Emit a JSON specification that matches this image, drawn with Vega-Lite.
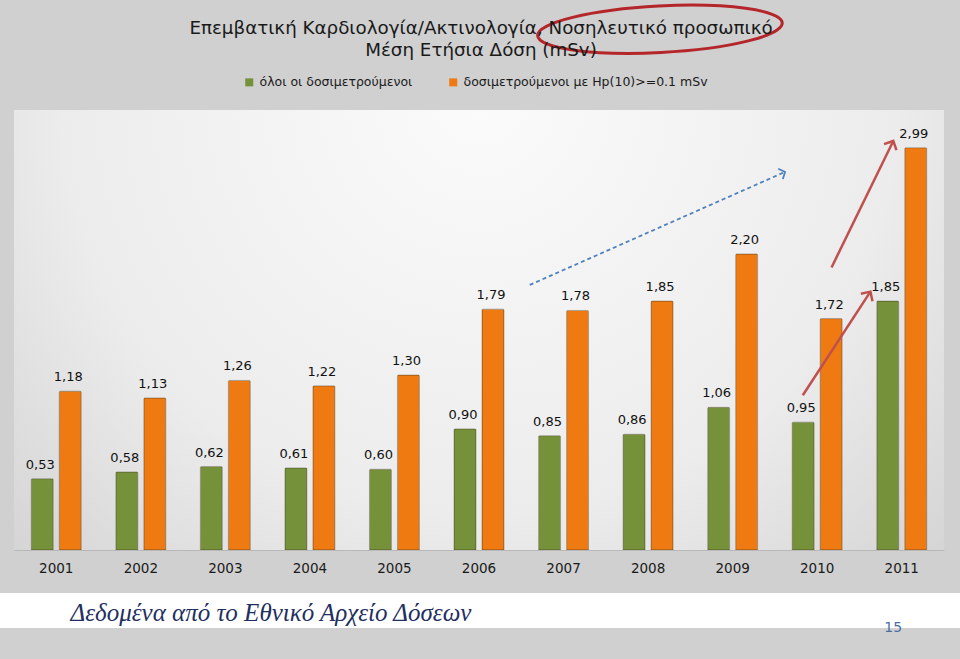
{
  "$schema": "https://vega.github.io/schema/vega-lite/v6.json",
  "width": 930,
  "height": 440,
  "autosize": "none",
  "padding": {"left": 14, "top": 110, "right": 16, "bottom": 109},
  "background": "#d0d0d0",
  "config": {
    "locale": {"number": {"decimal": ",", "thousands": ".", "grouping": [3], "currency": ["", " €"]}},
    "view": {"stroke": null, "fill": {"gradient": "radial", "x1": 0.5, "y1": 0.25, "r1": 0, "x2": 0.5, "y2": 0.25, "r2": 0.75, "stops": [{"offset": 0, "color": "#fbfbfb"}, {"offset": 0.6, "color": "#ececec"}, {"offset": 1, "color": "#d0d0d0"}]}},
    "font": "DejaVu Sans"
  },
  "title": {
    "text": ["Επεμβατική Καρδιολογία/Ακτινολογία, Νοσηλευτικό προσωπικό", "Μέση Ετήσια Δόση (mSv)"],
    "font": "DejaVu Sans",
    "fontSize": 18.3,
    "fontWeight": "normal",
    "color": "#1a1a1a",
    "anchor": "middle",
    "frame": "group",
    "lineHeight": 22,
    "offset": 0,
    "dy": 61,
    "dx": 2
  },
  "datasets": {
    "doses": [
      {"year": "2001", "series": "όλοι οι δοσιμετρούμενοι", "value": 0.53},
      {"year": "2001", "series": "δοσιμετρούμενοι με Hp(10)>=0.1 mSv", "value": 1.18},
      {"year": "2002", "series": "όλοι οι δοσιμετρούμενοι", "value": 0.58},
      {"year": "2002", "series": "δοσιμετρούμενοι με Hp(10)>=0.1 mSv", "value": 1.13},
      {"year": "2003", "series": "όλοι οι δοσιμετρούμενοι", "value": 0.62},
      {"year": "2003", "series": "δοσιμετρούμενοι με Hp(10)>=0.1 mSv", "value": 1.26},
      {"year": "2004", "series": "όλοι οι δοσιμετρούμενοι", "value": 0.61},
      {"year": "2004", "series": "δοσιμετρούμενοι με Hp(10)>=0.1 mSv", "value": 1.22},
      {"year": "2005", "series": "όλοι οι δοσιμετρούμενοι", "value": 0.60},
      {"year": "2005", "series": "δοσιμετρούμενοι με Hp(10)>=0.1 mSv", "value": 1.30},
      {"year": "2006", "series": "όλοι οι δοσιμετρούμενοι", "value": 0.90},
      {"year": "2006", "series": "δοσιμετρούμενοι με Hp(10)>=0.1 mSv", "value": 1.79},
      {"year": "2007", "series": "όλοι οι δοσιμετρούμενοι", "value": 0.85},
      {"year": "2007", "series": "δοσιμετρούμενοι με Hp(10)>=0.1 mSv", "value": 1.78},
      {"year": "2008", "series": "όλοι οι δοσιμετρούμενοι", "value": 0.86},
      {"year": "2008", "series": "δοσιμετρούμενοι με Hp(10)>=0.1 mSv", "value": 1.85},
      {"year": "2009", "series": "όλοι οι δοσιμετρούμενοι", "value": 1.06},
      {"year": "2009", "series": "δοσιμετρούμενοι με Hp(10)>=0.1 mSv", "value": 2.20},
      {"year": "2010", "series": "όλοι οι δοσιμετρούμενοι", "value": 0.95},
      {"year": "2010", "series": "δοσιμετρούμενοι με Hp(10)>=0.1 mSv", "value": 1.72},
      {"year": "2011", "series": "όλοι οι δοσιμετρούμενοι", "value": 1.85},
      {"year": "2011", "series": "δοσιμετρούμενοι με Hp(10)>=0.1 mSv", "value": 2.99}
    ],
    "arrows": [
      {"arrow": "blue", "pos": 6.10, "level": 1.97},
      {"arrow": "blue", "pos": 9.12, "level": 2.81},
      {"arrow": "red1", "pos": 9.33, "level": 1.15},
      {"arrow": "red1", "pos": 10.13, "level": 1.92},
      {"arrow": "red2", "pos": 9.67, "level": 2.10},
      {"arrow": "red2", "pos": 10.40, "level": 3.04}
    ],
    "heads": [
      {"arrow": "blue", "pos": 9.12, "level": 2.81},
      {"arrow": "red1", "pos": 10.13, "level": 1.92},
      {"arrow": "red2", "pos": 10.40, "level": 3.04}
    ],
    "notes": [
      {"note": "ellipse", "pos": 7.64, "level": 3.87},
      {"note": "15", "pos": 10.4, "level": -0.58}
    ],
    "footer": [
      {"from": -0.17, "to": 11.19, "low": -0.58, "high": -0.32}
    ]
  },
  "layer": [
    {
      "data": {"name": "footer"},
      "mark": {"type": "rect", "color": "#ffffff", "clip": false},
      "encoding": {
        "x": {"field": "from", "type": "quantitative", "scale": {"domain": [0, 11]}, "axis": null},
        "x2": {"field": "to"},
        "y": {"field": "low", "type": "quantitative", "scale": {"domain": [0, 3.27]}, "axis": null},
        "y2": {"field": "high"}
      }
    },
    {
      "data": {"name": "doses"},
      "encoding": {
        "x": {
          "field": "year", "type": "nominal",
          "scale": {"paddingInner": 0.338, "paddingOuter": 0.169},
          "axis": {
            "zindex": 1,
            "labelAngle": 0, "labelFontSize": 13.5, "labelColor": "#1a1a1a", "labelPadding": 11,
            "ticks": false, "domain": true, "domainColor": "#b8b8b8",
            "title": "Δεδομένα από το Εθνικό Αρχείο Δόσεων",
            "titleFont": "Liberation Serif", "titleFontStyle": "italic", "titleFontWeight": "normal",
            "titleFontSize": 25, "titleColor": "#1f2f5f",
            "titleAnchor": "start", "titleAlign": "left", "titleBaseline": "alphabetic",
            "titleX": 56, "titleY": 70
          }
        },
        "xOffset": {"field": "series", "type": "nominal", "sort": ["όλοι οι δοσιμετρούμενοι", "δοσιμετρούμενοι με Hp(10)>=0.1 mSv"], "scale": {"paddingInner": 0.214, "paddingOuter": 0.107}},
        "y": {"field": "value", "type": "quantitative", "scale": {"domain": [0, 3.27]}, "axis": null}
      },
      "layer": [
        {
          "mark": {"type": "bar", "stroke": "#4a3a20", "strokeOpacity": 0.35, "strokeWidth": 1, "cornerRadiusTopLeft": 1, "cornerRadiusTopRight": 1},
          "encoding": {
            "color": {
              "field": "series", "type": "nominal",
              "scale": {"domain": ["όλοι οι δοσιμετρούμενοι", "δοσιμετρούμενοι με Hp(10)>=0.1 mSv"], "range": ["#75923b", "#f07a12"]},
              "legend": {
                "orient": "none", "direction": "horizontal", "legendX": 229, "legendY": -34,
                "title": null, "symbolType": "square", "symbolSize": 64, "symbolStrokeWidth": 0,
                "labelFontSize": 12.5, "labelColor": "#1a1a1a", "columnPadding": 34, "labelOffset": 4, "labelLimit": 400
              }
            }
          }
        },
        {
          "mark": {"type": "text", "baseline": "bottom", "dy": -7, "dx": -2, "fontSize": 13, "color": "#111111"},
          "encoding": {
            "text": {"field": "value", "type": "quantitative", "format": ".2f"}
          }
        }
      ]
    },
    {
      "data": {"name": "arrows"},
      "transform": [{"filter": "datum.arrow === 'blue'"}],
      "mark": {"type": "line", "color": "#4f81bd", "strokeWidth": 1.8, "strokeDash": [4, 3]},
      "encoding": {
        "x": {"field": "pos", "type": "quantitative", "scale": {"domain": [0, 11]}, "axis": null},
        "y": {"field": "level", "type": "quantitative", "scale": {"domain": [0, 3.27]}}
      }
    },
    {
      "data": {"name": "arrows"},
      "transform": [{"filter": "datum.arrow !== 'blue'"}],
      "mark": {"type": "line", "color": "#c0504d", "strokeWidth": 2.5},
      "encoding": {
        "x": {"field": "pos", "type": "quantitative", "scale": {"domain": [0, 11]}, "axis": null},
        "y": {"field": "level", "type": "quantitative", "scale": {"domain": [0, 3.27]}},
        "detail": {"field": "arrow"}
      }
    },
    {
      "data": {"name": "heads"},
      "transform": [{"filter": "datum.arrow === 'blue'"}],
      "mark": {"type": "point", "shape": "M-0.8,0.7L0,0L0.8,0.7", "filled": false, "color": "#4f81bd", "strokeWidth": 1.8, "size": 200, "angle": 66, "opacity": 1},
      "encoding": {
        "x": {"field": "pos", "type": "quantitative", "scale": {"domain": [0, 11]}, "axis": null},
        "y": {"field": "level", "type": "quantitative", "scale": {"domain": [0, 3.27]}}
      }
    },
    {
      "data": {"name": "heads"},
      "transform": [{"filter": "datum.arrow === 'red1'"}],
      "mark": {"type": "point", "shape": "M-0.8,0.8L0,0L0.8,0.8", "filled": false, "color": "#c0504d", "strokeWidth": 2.5, "size": 300, "angle": 33, "opacity": 1},
      "encoding": {
        "x": {"field": "pos", "type": "quantitative", "scale": {"domain": [0, 11]}, "axis": null},
        "y": {"field": "level", "type": "quantitative", "scale": {"domain": [0, 3.27]}}
      }
    },
    {
      "data": {"name": "heads"},
      "transform": [{"filter": "datum.arrow === 'red2'"}],
      "mark": {"type": "point", "shape": "M-0.8,0.8L0,0L0.8,0.8", "filled": false, "color": "#c0504d", "strokeWidth": 2.5, "size": 300, "angle": 26, "opacity": 1},
      "encoding": {
        "x": {"field": "pos", "type": "quantitative", "scale": {"domain": [0, 11]}, "axis": null},
        "y": {"field": "level", "type": "quantitative", "scale": {"domain": [0, 3.27]}}
      }
    },
    {
      "data": {"name": "notes"},
      "transform": [{"filter": "datum.note === 'ellipse'"}],
      "mark": {"type": "point", "shape": "M-1,0A1,0.19,0,1,0,1,0A1,0.19,0,1,0,-1,0Z", "filled": false, "color": "#b5262b", "strokeWidth": 3, "size": 60000, "angle": -3, "opacity": 1},
      "encoding": {
        "x": {"field": "pos", "type": "quantitative", "scale": {"domain": [0, 11]}, "axis": null},
        "y": {"field": "level", "type": "quantitative", "scale": {"domain": [0, 3.27]}}
      }
    },
    {
      "data": {"name": "notes"},
      "transform": [{"filter": "datum.note === '15'"}],
      "mark": {"type": "text", "fontSize": 14, "color": "#4a6fa5", "font": "DejaVu Sans"},
      "encoding": {
        "x": {"field": "pos", "type": "quantitative", "scale": {"domain": [0, 11]}, "axis": null},
        "y": {"field": "level", "type": "quantitative", "scale": {"domain": [0, 3.27]}},
        "text": {"field": "note"}
      }
    }
  ],
  "resolve": {"scale": {"x": "independent"}}
}
